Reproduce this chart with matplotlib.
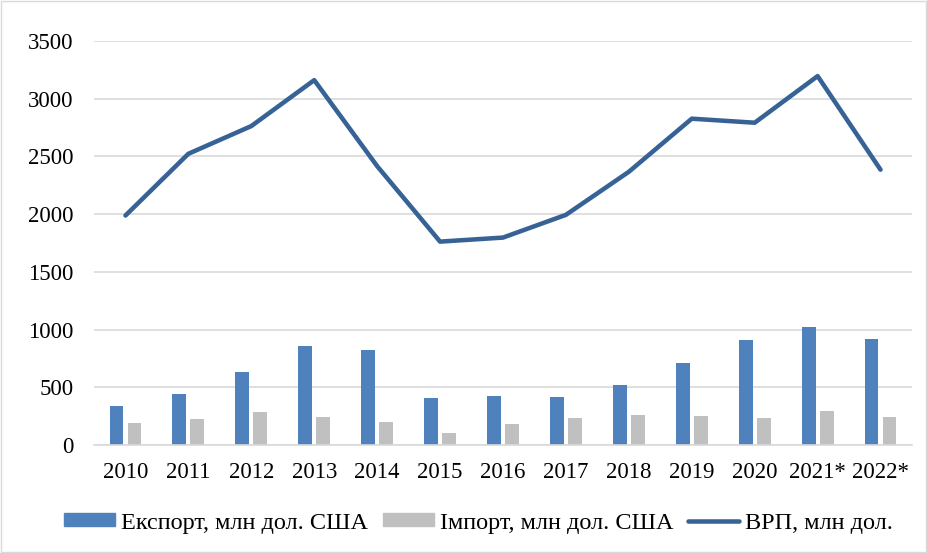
import matplotlib.pyplot as plt
import numpy as np
from matplotlib.patches import Rectangle
from matplotlib.lines import Line2D

plt.rcParams['font.family'] = ['Liberation Serif', 'DejaVu Serif']

years = ['2010', '2011', '2012', '2013', '2014', '2015', '2016', '2017', '2018', '2019', '2020', '2021*', '2022*']
export = [336, 443, 631, 857, 819, 405, 428, 417, 521, 707, 909, 1019, 917]
imports = [188, 229, 287, 246, 203, 108, 185, 238, 264, 249, 234, 292, 246]
grp = [1988, 2523, 2763, 3161, 2416, 1762, 1797, 1994, 2367, 2827, 2792, 3196, 2385]

fig = plt.figure(figsize=(9.27, 5.53), dpi=100)
ax = fig.add_axes([94 / 927, 1 - 445 / 553, 818 / 927, 404 / 553])

x = np.arange(len(years))
w = 0.22
ax.bar(x - 0.143, export, w, color='#4F81BD', zorder=2)
ax.bar(x + 0.143, imports, w, color='#C0C0C0', zorder=2)
ax.plot(x, grp, color='#376296', linewidth=3.25, solid_capstyle='round', zorder=3)

ax.set_xlim(-0.5, len(years) - 0.5)
ax.set_ylim(0, 3500)
ax.set_yticks(np.arange(0, 3501, 500))
ax.set_xticks(x)
ax.set_xticklabels(years)
ax.tick_params(axis='both', length=0, labelsize=16.5, colors='black')
ax.tick_params(axis='y', pad=14.5)
ax.tick_params(axis='x', pad=12)
ax.grid(axis='y', color='#d9d9d9', linewidth=1.2, zorder=0)
for s in ['top', 'right', 'left']:
    ax.spines[s].set_visible(False)
ax.spines['bottom'].set_color('#d9d9d9')
ax.spines['bottom'].set_linewidth(1.2)

handles = [Rectangle((0, 0), 1, 1, color='#4F81BD'),
           Rectangle((0, 0), 1, 1, color='#C0C0C0'),
           Line2D([0], [0], color='#376296', linewidth=3.25, solid_capstyle='round')]
labels = ['Експорт, млн дол. США', 'Імпорт, млн дол. США', 'ВРП, млн дол.']
fig.legend(handles, labels, loc='center', bbox_to_anchor=(0.516, 1 - 523 / 553), ncol=3,
           frameon=False, fontsize=17.5, handlelength=2.1, handleheight=0.45,
           handletextpad=0.25, columnspacing=0.6)

fig.patches.append(Rectangle((0.001, 0.001), 0.998, 0.998, transform=fig.transFigure,
                             fill=False, edgecolor='#d9d9d9', linewidth=1))

fig.savefig('out.png', dpi=100)
